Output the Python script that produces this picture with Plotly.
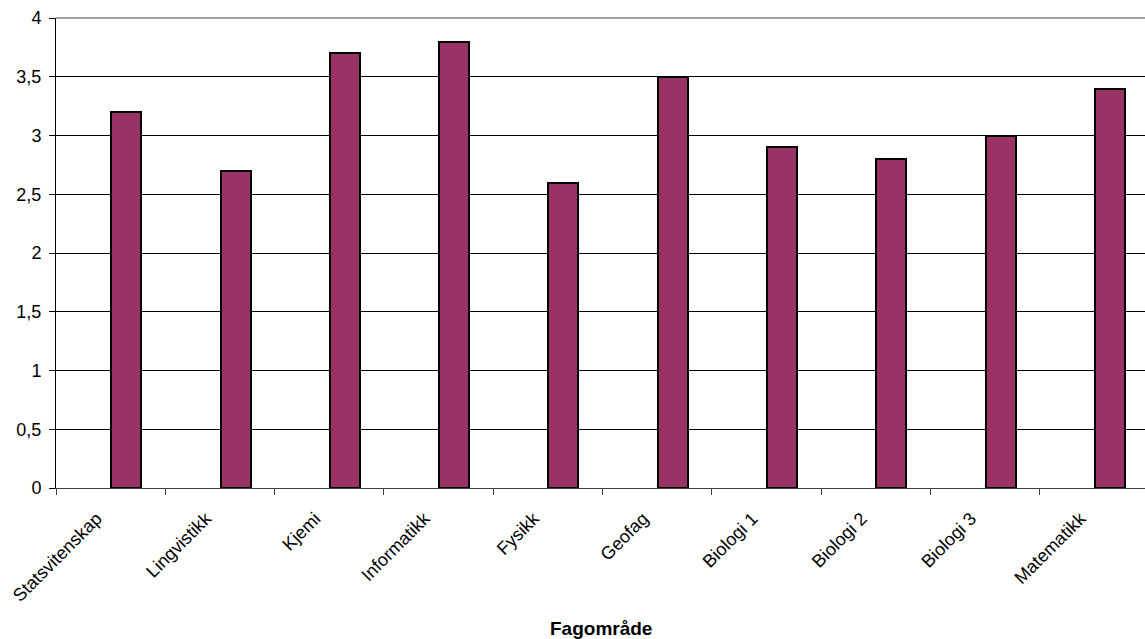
import plotly.graph_objects as go

# Fagområder og verdier
categories = ["Statsvitenskap", "Lingvistikk", "Kjemi", "Informatikk", "Fysikk",
              "Geofag", "Biologi 1", "Biologi 2", "Biologi 3", "Matematikk"]
values = [3.2, 2.7, 3.7, 3.8, 2.6, 3.5, 2.9, 2.8, 3.0, 3.4]
y_ticks = [0, 0.5, 1, 1.5, 2, 2.5, 3, 3.5, 4]

FONT = "Liberation Sans, Arial, sans-serif"

fig = go.Figure()
fig.add_trace(go.Bar(
    x=categories,
    y=values,
    offset=0.005,
    width=0.275,
    marker=dict(color="#993366", line=dict(color="#000000", width=2)),
    hoverinfo="x+y",
))

fig.update_layout(
    width=1145,
    height=639,
    margin=dict(l=56, r=0, t=18, b=151),
    paper_bgcolor="white",
    plot_bgcolor="white",
    separators=", ",
    showlegend=False,
    font=dict(family=FONT, size=18, color="#000000"),
    bargap=0,
    xaxis=dict(
        type="category",
        range=[-0.5, 9.463],
        tickson="boundaries",
        ticks="outside",
        ticklen=6,
        tickwidth=1,
        tickcolor="#404040",
        tickangle=-45,
        showline=True,
        linecolor="#404040",
        linewidth=1,
        showgrid=False,
        ticklabelstandoff=12,
        ticklabelshift=-14,
        tickfont=dict(family=FONT, size=18, color="#000000"),
        fixedrange=True,
    ),
    yaxis=dict(
        range=[0, 4],
        tickvals=y_ticks,
        ticks="outside",
        ticklen=6,
        tickcolor="#000000",
        showline=True,
        linecolor="#000000",
        linewidth=1,
        showgrid=True,
        gridcolor="#000000",
        gridwidth=1,
        zeroline=False,
        ticklabelstandoff=4,
        tickfont=dict(family=FONT, size=18, color="#000000"),
        fixedrange=True,
    ),
    shapes=[dict(
        type="line", xref="paper", yref="paper",
        x0=0, x1=1, y0=1, y1=1,
        line=dict(color="#a0a0a0", width=2),
        layer="above",
    )],
    annotations=[dict(
        text="<b>Fagområde</b>",
        xref="paper", yref="paper",
        x=0.5, y=-0.298,
        xanchor="center", yanchor="middle",
        showarrow=False,
        font=dict(family=FONT, size=19, color="#000000"),
    )],
)

fig.write_html("out.html")
